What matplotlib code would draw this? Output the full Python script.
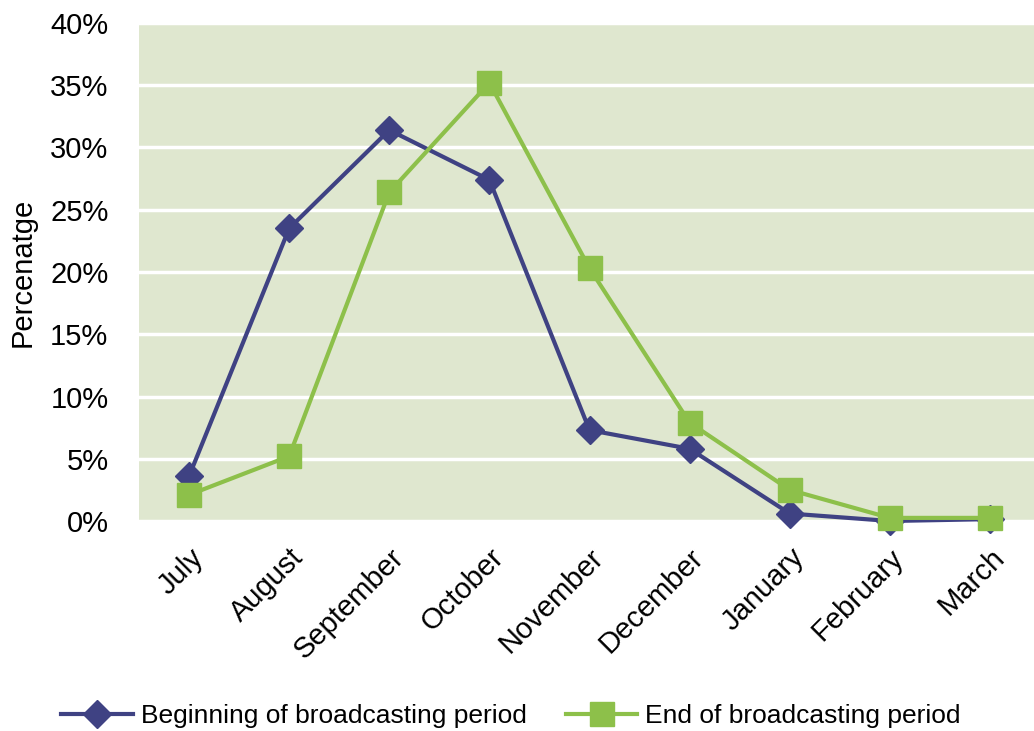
import matplotlib
matplotlib.use('Agg')
from matplotlib import pyplot as plt
from matplotlib.ticker import FuncFormatter

months = ['July', 'August', 'September', 'October', 'November',
          'December', 'January', 'February', 'March']
beginning = [3.6, 23.5, 31.4, 27.4, 7.3, 5.8, 0.6, 0.0, 0.15]
end = [2.1, 5.2, 26.4, 35.2, 20.3, 7.9, 2.5, 0.25, 0.25]

plt.rcParams['font.family'] = ['Liberation Sans', 'DejaVu Sans']

fig = plt.figure(figsize=(10.34, 7.31), dpi=100)
ax = fig.add_axes([139 / 1034, 1 - 521 / 731, (1040 - 139) / 1034, (521 - 23) / 731])
ax.set_facecolor('#DFE7CF')

x = list(range(len(months)))
ax.plot(x, beginning, color='#3F4283', lw=3, marker='D', ms=14,
        label='Beginning of broadcasting period', zorder=3, clip_on=False)
ax.plot(x, end, color='#8DC04A', lw=3, marker='s', ms=17,
        label='End of broadcasting period', zorder=4, clip_on=False)

ax.set_xlim(-0.5, len(months) - 0.5)
ax.set_ylim(0, 40)
ax.set_yticks(range(0, 41, 5))
ax.yaxis.set_major_formatter(FuncFormatter(lambda v, p: '%d%%' % v))
ax.grid(axis='y', color='white', lw=2.5)
ax.set_axisbelow(True)
for s in ax.spines.values():
    s.set_visible(False)
ax.tick_params(length=0, labelsize=21)
ax.tick_params(axis='y', pad=22)
ax.set_xticks(x)
ax.set_xticklabels(months, rotation=45, ha='right', rotation_mode='anchor')
ax.tick_params(axis='x', pad=16)
ax.set_ylabel('Percenatge', fontsize=21, labelpad=10)

fig.legend(loc='center', bbox_to_anchor=(511 / 1034, 1 - 716 / 731), ncol=2, frameon=False,
           fontsize=19, handlelength=2.7, columnspacing=1.5, handletextpad=0.3)

fig.savefig('out.png', dpi=100)
